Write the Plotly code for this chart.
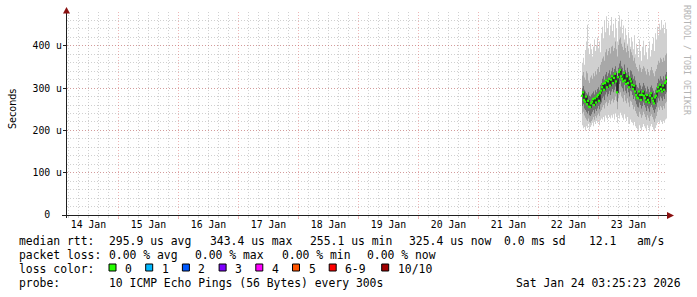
import pandas as pd
import plotly.graph_objects as go

# ---------------- data ----------------
range_start = "2026-01-14 03:25:23"
range_end = "2026-01-24 03:25:23"
first_sample = "2026-01-22 17:25:23"
n_samples = 86
sample_step = "24min"

# ping round-trip times in microseconds (sorted ping ranks per sample)
rtt_max = [360, 372, 355, 390, 410, 450, 395, 380, 405, 392,
           375, 398, 415, 388, 402, 420, 395, 410, 385, 430,
           445, 418, 460, 432, 470, 440, 455, 425, 448, 468,
           435, 452, 420, 465, 442, 410, 458, 472, 445, 462,
           430, 448, 415, 440, 425, 405, 432, 418, 398, 420,
           410, 392, 425, 380, 405, 395, 372, 415, 388, 365,
           398, 412, 378, 402, 385, 368, 395, 410, 375, 390,
           405, 420, 388, 430, 415, 445, 425, 452, 438, 460,
           442, 450, 430, 455, 440, 448]
rtt_q9 = [330, 338, 325, 320, 340, 335, 318, 312, 325, 330,
          322, 335, 328, 340, 332, 345, 350, 338, 355, 362,
          370, 375, 365, 385, 392, 378, 388, 395, 382, 398,
          400, 388, 395, 410, 392, 375, 402, 415, 420, 405,
          398, 390, 408, 395, 385, 400, 388, 372, 392, 385,
          378, 365, 372, 358, 350, 345, 340, 355, 348, 338,
          345, 352, 348, 340, 332, 345, 338, 330, 342, 350,
          342, 335, 328, 340, 345, 355, 365, 360, 372, 368,
          362, 372, 365, 378, 382, 390]
rtt_q8 = [300, 305, 296, 292, 288, 285, 290, 282, 280, 285,
          288, 292, 285, 295, 290, 298, 302, 295, 308, 312,
          322, 328, 320, 332, 338, 328, 335, 342, 332, 340,
          348, 338, 345, 352, 340, 318, 348, 358, 365, 352,
          348, 340, 356, 342, 335, 348, 338, 328, 342, 340,
          332, 322, 328, 318, 308, 302, 300, 312, 306, 298,
          304, 312, 306, 300, 292, 304, 298, 290, 302, 306,
          300, 294, 288, 296, 302, 312, 322, 318, 328, 322,
          318, 328, 320, 332, 338, 348]
rtt_median = [282, 290, 272, 268, 280, 262, 270, 256, 255, 264,
              268, 274, 260, 276, 266, 280, 284, 270, 288, 294,
              302, 310, 296, 312, 318, 302, 316, 322, 306, 320,
              328, 312, 324, 334, 316, 290, 326, 338, 343, 328,
              322, 316, 336, 318, 310, 328, 312, 302, 322, 316,
              308, 298, 306, 292, 284, 278, 276, 292, 284, 272,
              284, 292, 282, 276, 268, 284, 272, 266, 282, 288,
              276, 270, 264, 278, 282, 292, 302, 294, 308, 298,
              292, 306, 296, 312, 316, 325]
rtt_q3 = [258, 262, 252, 248, 244, 240, 246, 236, 234, 238,
          244, 248, 240, 250, 246, 252, 258, 250, 262, 266,
          276, 280, 272, 285, 290, 280, 286, 294, 284, 292,
          298, 290, 296, 304, 292, 268, 300, 310, 316, 304,
          300, 292, 308, 294, 288, 300, 290, 280, 294, 292,
          284, 274, 280, 270, 262, 256, 254, 266, 260, 252,
          258, 266, 260, 254, 246, 258, 252, 244, 256, 260,
          254, 248, 242, 250, 256, 266, 276, 270, 280, 276,
          270, 280, 274, 286, 290, 298]
rtt_q2 = [240, 244, 235, 230, 226, 222, 228, 220, 218, 222,
          226, 232, 225, 234, 230, 236, 240, 234, 245, 248,
          255, 260, 252, 264, 268, 258, 265, 272, 262, 270,
          275, 266, 272, 280, 270, 250, 276, 285, 290, 280,
          276, 268, 284, 270, 264, 276, 266, 256, 270, 268,
          260, 250, 256, 246, 240, 234, 232, 244, 238, 230,
          236, 244, 238, 232, 225, 236, 230, 222, 234, 238,
          232, 226, 220, 228, 234, 244, 254, 248, 258, 254,
          248, 258, 252, 264, 268, 275]
rtt_min = [212, 205, 208, 200, 210, 206, 215, 202, 208, 212,
           218, 210, 220, 215, 222, 218, 225, 212, 224, 228,
           226, 232, 222, 235, 230, 225, 238, 232, 228, 236,
           230, 238, 226, 240, 232, 218, 235, 228, 242, 236,
           230, 225, 238, 228, 222, 232, 218, 215, 226, 222,
           218, 212, 220, 210, 206, 202, 198, 212, 205, 200,
           208, 215, 210, 205, 200, 212, 206, 198, 210, 215,
           208, 202, 198, 206, 212, 218, 222, 216, 224, 220,
           215, 222, 218, 226, 228, 232]

y_max = 480
ytick_vals = [0, 100, 200, 300, 400]
ytick_text = ["0\u00a0\u00a0", "100 u", "200 u", "300 u", "400 u"]
x_tick0 = "2026-01-14"

y_title = "Seconds"
watermark = "RRDTOOL / TOBI OETIKER"
row_heads = ["median rtt:", "packet loss:", "loss color:", "probe:"]
rtt_items = ["295.9 us avg", "343.4 us max", "255.1 us min", "325.4 us now",
             "0.0 ms sd", "12.1", "am/s"]
loss_items = ["0.00 % avg", "0.00 % max", "0.00 % min", "0.00 % now"]
loss_labels = ["0", "1", "2", "3", "4", "5", "6-9", "10/10"]
loss_colors = ["#26ff00", "#00b8ff", "#0059ff", "#7e00ff", "#ff00ff",
               "#ff5500", "#ff0000", "#a10000"]
probe_text = "10 ICMP Echo Pings (56 Bytes) every 300s"
stamp_text = "Sat Jan 24 03:25:23 2026"

# ---------------- layout geometry (pixels) ----------------
W, H = 697, 297
L, R, T, B = 67, 667, 12, 215
def px(x):
    return (x - L) / (R - L)
def py(y):
    return (B - y) / (B - T)

rtt_x = [106.7, 207.5, 307.7, 406.7, 502, 586.7, 635]
loss_x = [106.7, 193.3, 279.5, 365]
sq_x = [109, 145.7, 182.4, 219.1, 255.8, 292.5, 329.2, 381.7]
row_y = [241, 255, 269, 283]

MONO = "DejaVu Sans Mono"
GRID = "rgba(150,150,150,0.45)"
MGRID = "rgba(215,90,90,0.45)"
AXIS = "#1f1f1f"
ARROW = "#8a1010"

times = pd.date_range(first_sample, periods=n_samples, freq=sample_step)

fig = go.Figure()

def band(lo, hi, color):
    fig.add_trace(go.Scatter(x=times, y=lo, mode="lines", line=dict(width=0, shape="hv"),
                             hoverinfo="skip"))
    fig.add_trace(go.Scatter(x=times, y=hi, mode="lines", line=dict(width=0, shape="hv"),
                             fill="tonexty", fillcolor=color, hoverinfo="skip"))

band(rtt_min, rtt_max, "#d0d0d0")
band(rtt_q2, rtt_q9, "#a8a8a8")
band(rtt_q3, rtt_q8, "#707070")
fig.add_trace(go.Scatter(x=times, y=rtt_median, mode="lines",
                         line=dict(width=1.5, color="#262626", shape="hv"), hoverinfo="skip"))
fig.add_trace(go.Scatter(x=times, y=rtt_median, mode="markers",
                         marker=dict(symbol="square", size=2.2, color=loss_colors[0],
                                     line=dict(width=0))))

fig.update_layout(
    width=W, height=H, margin=dict(l=L, r=W - R, t=T, b=H - B, pad=0),
    paper_bgcolor="white", plot_bgcolor="white", showlegend=False,
    font=dict(family=MONO, size=10, color="black"),
)
fig.update_xaxes(
    type="date", range=[range_start, range_end], tick0=x_tick0, dtick=86400000,
    ticklabelmode="period", tickformat="%d %b",
    showgrid=True, gridcolor=MGRID, griddash="1px,2px", gridwidth=1,
    ticks="outside", ticklen=3, tickcolor=MGRID, showline=False, zeroline=False,
    ticklabelstandoff=-3,
    tickfont=dict(family=MONO, size=9.8, color="black"),
    minor=dict(tick0=x_tick0, dtick=4 * 3600000, showgrid=True, gridcolor=GRID,
               griddash="1px,2px", gridwidth=1, ticks="outside", ticklen=2, tickcolor=GRID),
)
fig.update_yaxes(
    range=[0, y_max], tickmode="array", tickvals=ytick_vals, ticktext=ytick_text,
    showgrid=True, gridcolor=MGRID, griddash="1px,2px", gridwidth=1,
    ticks="outside", ticklen=3, tickcolor=AXIS, showline=False, zeroline=False,
    ticklabelstandoff=-1,
    tickfont=dict(family=MONO, size=9.8, color="black"),
    minor=dict(tickmode="linear", tick0=0, dtick=20, showgrid=True, gridcolor=GRID,
               griddash="1px,2px", gridwidth=1),
)

shapes = []
# axis lines
shapes.append(dict(type="line", xref="paper", yref="paper", x0=px(62), x1=px(668),
                   y0=py(215.5), y1=py(215.5), line=dict(color=AXIS, width=1)))
shapes.append(dict(type="line", xref="paper", yref="paper", x0=px(66.5), x1=px(66.5),
                   y0=py(218), y1=py(12), line=dict(color=AXIS, width=1)))
# arrows
shapes.append(dict(type="path", xref="paper", yref="paper",
                   path=f"M {px(674)},{py(215.5)} L {px(667)},{py(212)} L {px(667)},{py(219)} Z",
                   fillcolor=ARROW, line=dict(width=0)))
shapes.append(dict(type="path", xref="paper", yref="paper",
                   path=f"M {px(66.5)},{py(7)} L {px(63)},{py(13.5)} L {px(70)},{py(13.5)} Z",
                   fillcolor=ARROW, line=dict(width=0)))
# loss colour swatches
for xs, col in zip(sq_x, loss_colors):
    shapes.append(dict(type="rect", xref="paper", yref="paper",
                       x0=px(xs), x1=px(xs + 7), y0=py(264), y1=py(271),
                       fillcolor=col, line=dict(color="black", width=1)))
fig.update_layout(shapes=shapes)

ann = []
def text(x, y, s, anchor="left", size=11.4, color="black", family=MONO, angle=0):
    ann.append(dict(xref="paper", yref="paper", x=px(x), y=py(y), text=s,
                    showarrow=False, xanchor=anchor, yanchor="middle",
                    textangle=angle, font=dict(family=family, size=size, color=color)))

text(12, 109, y_title, anchor="center", size=9.6, family="DejaVu Sans", angle=-90)
text(687, 60, watermark, anchor="center", size=8.3, color="#b4b4b4", angle=90)
for head, yy in zip(row_heads, row_y):
    text(16.5, yy, head)
for s, xx in zip(rtt_items, rtt_x):
    text(xx, row_y[0], s)
for s, xx in zip(loss_items, loss_x):
    text(xx, row_y[1], s)
for s, xx in zip(loss_labels, sq_x):
    text(xx + 14, row_y[2], s)
text(106.7, row_y[3], probe_text)
text(683, row_y[3], stamp_text, anchor="right")
fig.update_layout(annotations=ann)

fig.write_html("out.html")
